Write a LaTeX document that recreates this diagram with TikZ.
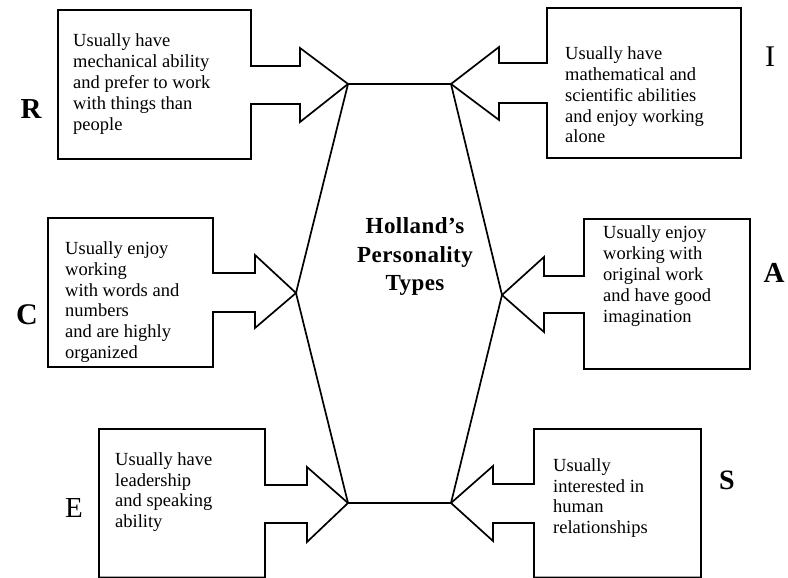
\documentclass[tikz,border=0pt]{standalone}
\usepackage{fontspec}
\setmainfont{Liberation Serif}
\begin{document}
\begin{tikzpicture}[x=1pt,y=-1pt,
  shapeline/.style={draw=black,line width=1.7pt,line join=miter},
  desc/.style={anchor=west,align=left,inner sep=0pt,font=\fontsize{18.5}{20.8}\selectfont},
  letter/.style={inner sep=0pt,font=\fontsize{28}{30}\selectfont},
  title/.style={inner sep=0pt,align=center,font=\fontsize{23}{28.5}\selectfont\bfseries\addfontfeature{LetterSpace=2}}]
\useasboundingbox (0,0) rectangle (788,578);
% hexagon vertices
\coordinate (hTL) at (348,84);
\coordinate (hTR) at (451,84);
\coordinate (hR) at (502,295);
\coordinate (hBR) at (451,503);
\coordinate (hBL) at (348,503);
\coordinate (hL) at (296,293);
\draw[shapeline] (hTL) -- (hTR) -- (hR) -- (hBR) -- (hBL) -- (hL) -- cycle;
% R box
\draw[shapeline,fill=white] (58,10) -- (251,10) -- (251,66) -- (300,66) -- (300,48) -- (hTL)
  -- (300,122) -- (300,104) -- (251,104) -- (251,159) -- (58,159) -- cycle;
% I box
\draw[shapeline,fill=white] (741,8) -- (547,8) -- (547,63) -- (499,63) -- (499,47) -- (hTR)
  -- (499,120) -- (499,103) -- (547,103) -- (547,158) -- (741,158) -- cycle;
% C box
\draw[shapeline,fill=white] (48,218) -- (213,218) -- (213,273) -- (255,273) -- (255,255) -- (hL)
  -- (255,328) -- (255,312) -- (213,312) -- (213,367) -- (48,367) -- cycle;
% A box
\draw[shapeline,fill=white] (750,219) -- (584,219) -- (584,276) -- (544,276) -- (544,257) -- (hR)
  -- (544,332) -- (544,313) -- (584,313) -- (584,369) -- (750,369) -- cycle;
% E box
\draw[shapeline,fill=white] (99,429) -- (265,429) -- (265,485) -- (307,485) -- (307,467) -- (hBL)
  -- (307,542) -- (307,523) -- (265,523) -- (265,577.5) -- (99,577.5) -- cycle;
% S box
\draw[shapeline,fill=white] (701,429) -- (534,429) -- (534,484) -- (493,484) -- (493,466) -- (hBR)
  -- (493,541) -- (493,523) -- (534,523) -- (534,577.5) -- (701,577.5) -- cycle;
% texts
\node[desc] (tR) at (73,84) {Usually have\\mechanical ability\\and prefer to work\\with things than\\people};
\node[desc] (tI) at (565,95) {Usually have\\mathematical and\\scientific abilities\\and enjoy working\\alone};
\node[desc] (tC) at (65,302) {Usually enjoy\\working\\with words and\\numbers\\and are highly\\organized};
\node[desc] (tA) at (603,276) {Usually enjoy\\working with\\original work\\and have good\\imagination};
\node[desc] (tE) at (115,492) {Usually have\\leadership\\and speaking\\ability};
\node[desc] (tS) at (553,498) {Usually\\interested in\\human\\relationships};
\node[title] (center) at (415,257) {Holland’s\\Personality\\Types};
% letters
\node[letter,font=\fontsize{29}{30}\selectfont\bfseries] (lR) at (31,109) {R};
\node[letter,font=\fontsize{30}{30}\selectfont] (lI) at (770,57) {I};
\node[letter,font=\fontsize{30}{30}\selectfont\bfseries] (lC) at (27,315) {C};
\node[letter,font=\fontsize{29}{30}\selectfont\bfseries] (lA) at (774,273) {A};
\node[letter,font=\fontsize{29}{30}\selectfont] (lE) at (74,508) {E};
\node[letter,font=\fontsize{28}{30}\selectfont\bfseries] (lS) at (727,480) {S};
\end{tikzpicture}
\end{document}
